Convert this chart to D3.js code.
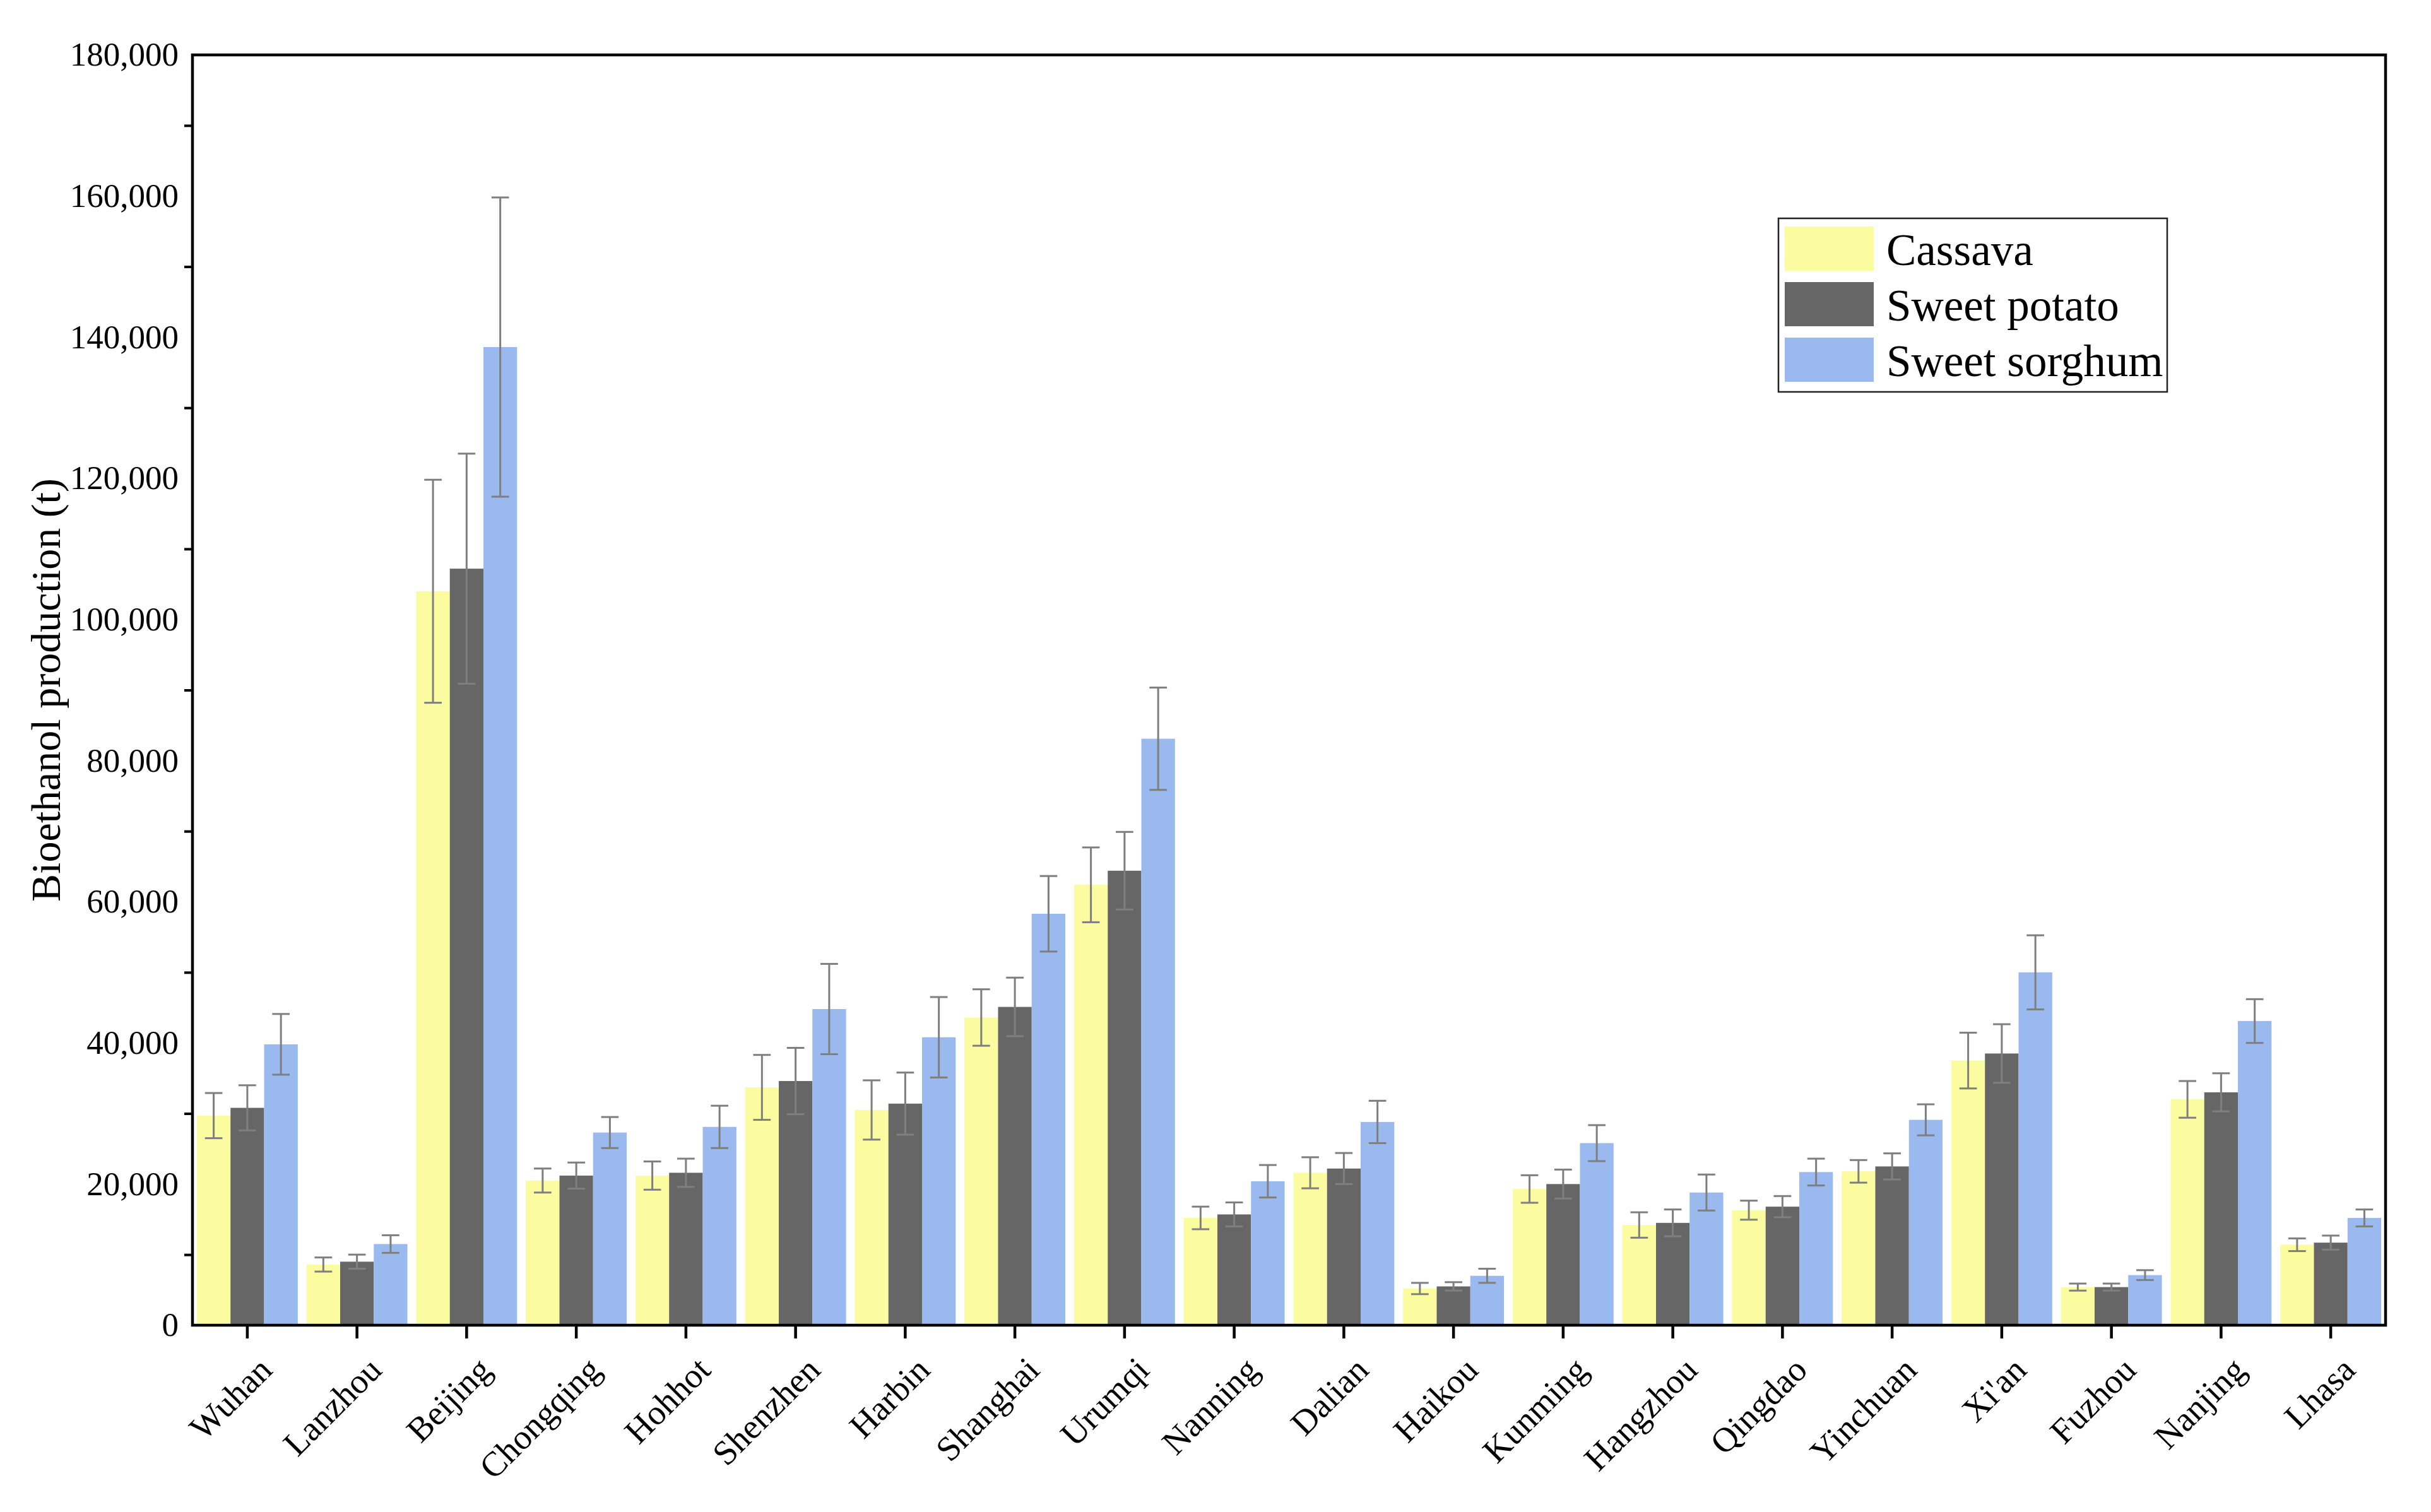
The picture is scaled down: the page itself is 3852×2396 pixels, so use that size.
<!DOCTYPE html>
<html>
<head>
<meta charset="utf-8">
<script src="https://cdn.jsdelivr.net/npm/d3@7"></script>
<style>
  html, body { margin: 0; padding: 0; background: #ffffff; }
  svg { display: block; }
</style>
</head>
<body>
<div id="chart"></div>
<script>
// ---------------- data ----------------
const categories = ["Wuhan","Lanzhou","Beijing","Chongqing","Hohhot","Shenzhen","Harbin","Shanghai","Urumqi","Nanning","Dalian","Haikou","Kunming","Hangzhou","Qingdao","Yinchuan","Xi'an","Fuzhou","Nanjing","Lhasa"];
const seriesNames = ["Cassava", "Sweet potato", "Sweet sorghum"];

const cassava      = [29700, 8600, 104000, 20500, 21200, 33700, 30500, 43600, 62400, 15200, 21600, 5200, 19300, 14200, 16300, 21800, 37500, 5400, 32000, 11400];
const cassavaErr   = [3200, 1000, 15800, 1700, 2000, 4600, 4200, 4000, 5300, 1600, 2200, 800, 1950, 1800, 1350, 1600, 3950, 500, 2600, 900];
const sweetPotato  = [30800, 9000, 107200, 21200, 21600, 34600, 31400, 45100, 64400, 15700, 22200, 5500, 20000, 14500, 16800, 22500, 38500, 5400, 33000, 11700];
const sweetPotatoErr = [3200, 1000, 16300, 1850, 2000, 4700, 4400, 4150, 5500, 1700, 2200, 600, 2050, 1900, 1500, 1850, 4150, 500, 2700, 1000];
const sweetSorghum = [39800, 11500, 138600, 27300, 28100, 44800, 40800, 58300, 83100, 20400, 28800, 7000, 25800, 18800, 21700, 29100, 50000, 7100, 43100, 15200];
const sweetSorghumErr = [4300, 1250, 21200, 2200, 3000, 6400, 5700, 5350, 7250, 2300, 3000, 1000, 2550, 2550, 1900, 2200, 5250, 700, 3100, 1200];

const yTickValues = [0, 20000, 40000, 60000, 80000, 100000, 120000, 140000, 160000, 180000];
const yMinorTicks = [10000, 30000, 50000, 70000, 90000, 110000, 130000, 150000, 170000];
const yTitle = "Bioethanol production (t)";

// ---------------- layout ----------------
const W = 3852, H = 2396;
const pLeft = 305, pRight = 3780, pTop = 87, pBottom = 2100;
const colors = ["#FBFB9F", "#666666", "#99B9EF"];
const errColor = "#7f7f7f";
const font = "'Liberation Serif', 'Times New Roman', serif";

const seriesValues = [cassava, sweetPotato, sweetSorghum];
const seriesErrs = [cassavaErr, sweetPotatoErr, sweetSorghumErr];

const rows = [];
categories.forEach((c, i) => {
  seriesNames.forEach((s, j) => {
    rows.push({cat: c, series: s, idx: j, value: seriesValues[j][i], err: seriesErrs[j][i]});
  });
});

const svg = d3.select("#chart").append("svg")
  .attr("width", W).attr("height", H)
  .attr("viewBox", `0 0 ${W} ${H}`);

svg.append("rect").attr("width", W).attr("height", H).attr("fill", "#ffffff");

const x0 = d3.scaleBand().domain(categories).range([pLeft, pRight])
  .paddingInner(0.08).paddingOuter(0.04);
const x1 = d3.scaleBand().domain(seriesNames).range([0, x0.bandwidth()]);
const y = d3.scaleLinear().domain([0, 180000]).range([pBottom, pTop]);

// bars
svg.append("g").selectAll("rect").data(rows).join("rect")
  .attr("x", d => x0(d.cat) + x1(d.series))
  .attr("y", d => y(d.value))
  .attr("width", x1.bandwidth())
  .attr("height", d => y(0) - y(d.value))
  .attr("fill", d => colors[d.idx]);

// error bars
const capHalf = x1.bandwidth() * 0.26;
const cx = d => x0(d.cat) + x1(d.series) + x1.bandwidth() / 2;
const eb = svg.append("g").attr("stroke", errColor).attr("stroke-width", 3).attr("fill", "none");
eb.selectAll("line.v").data(rows).join("line").attr("class", "v")
  .attr("x1", cx).attr("x2", cx)
  .attr("y1", d => y(d.value + d.err))
  .attr("y2", d => y(d.value - d.err));
eb.selectAll("line.t").data(rows).join("line").attr("class", "t")
  .attr("x1", d => cx(d) - capHalf).attr("x2", d => cx(d) + capHalf)
  .attr("y1", d => y(d.value + d.err)).attr("y2", d => y(d.value + d.err));
eb.selectAll("line.b").data(rows).join("line").attr("class", "b")
  .attr("x1", d => cx(d) - capHalf).attr("x2", d => cx(d) + capHalf)
  .attr("y1", d => y(d.value - d.err)).attr("y2", d => y(d.value - d.err));

// y axis labels (major, no visible tick marks)
const yAxis = svg.append("g").attr("transform", `translate(${pLeft},0)`)
  .call(d3.axisLeft(y).tickValues(yTickValues).tickSize(0).tickPadding(22).tickFormat(d3.format(",")));
yAxis.select(".domain").remove();
yAxis.selectAll("text").attr("font-family", font).attr("font-size", 53).attr("fill", "#000");

// y minor ticks
const yMinor = svg.append("g").attr("transform", `translate(${pLeft},0)`)
  .call(d3.axisLeft(y).tickValues(yMinorTicks).tickSize(13).tickFormat(""));
yMinor.select(".domain").remove();
yMinor.selectAll("line").attr("stroke", "#000").attr("stroke-width", 4);

// x axis
const xAxis = svg.append("g").attr("transform", `translate(0,${pBottom})`)
  .call(d3.axisBottom(x0).tickSize(21).tickFormat(""));
xAxis.select(".domain").remove();
xAxis.selectAll("line").attr("stroke", "#000").attr("stroke-width", 4.5);

svg.append("g").selectAll("text").data(categories).join("text")
  .attr("transform", d => `translate(${x0(d) + x0.bandwidth() / 2 + 42},${pBottom + 74}) rotate(-45)`)
  .attr("text-anchor", "end")
  .attr("font-family", font).attr("font-size", 55).attr("fill", "#000")
  .text(d => d);

// frame
svg.append("rect")
  .attr("x", pLeft).attr("y", pTop)
  .attr("width", pRight - pLeft).attr("height", pBottom - pTop)
  .attr("fill", "none").attr("stroke", "#000").attr("stroke-width", 4.5);

// y title
svg.append("text")
  .attr("transform", `translate(95,${(pTop + pBottom) / 2}) rotate(-90)`)
  .attr("text-anchor", "middle")
  .attr("font-family", font).attr("font-size", 66).attr("fill", "#000")
  .text(yTitle);

// legend
const lg = svg.append("g");
lg.append("rect").attr("x", 2818).attr("y", 346).attr("width", 616).attr("height", 275)
  .attr("fill", "#fff").attr("stroke", "#222").attr("stroke-width", 2.5);
seriesNames.forEach((s, j) => {
  lg.append("rect").attr("x", 2828).attr("y", 359 + j * 88).attr("width", 141).attr("height", 70)
    .attr("fill", colors[j]);
  lg.append("text").attr("x", 2989).attr("y", 420 + j * 88)
    .attr("font-family", font).attr("font-size", 71).attr("fill", "#000")
    .text(s);
});
</script>
</body>
</html>
